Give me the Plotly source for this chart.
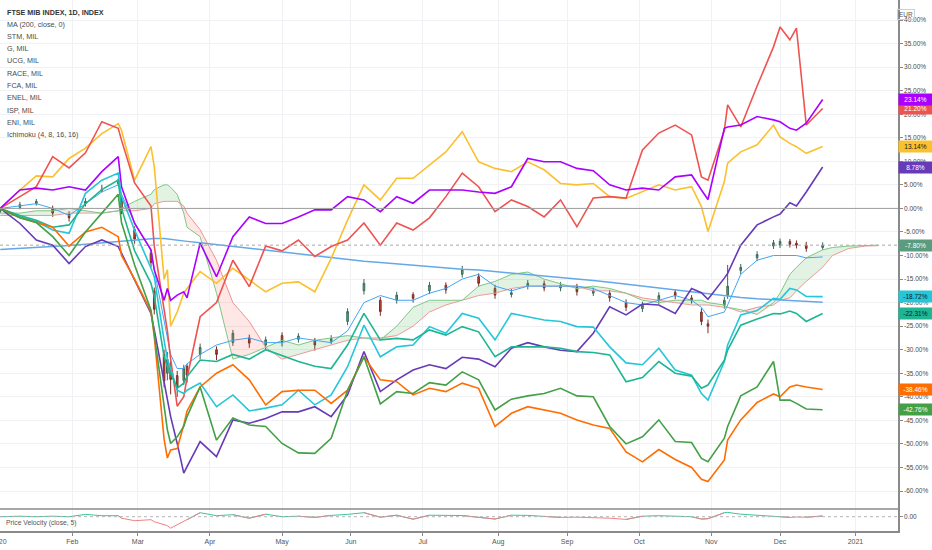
import numpy as np
import plotly.graph_objects as go

# sample dates (trading days, roughly weekly + a few extra around big moves)
dates = ["2020-01-02", "2020-01-10", "2020-01-17", "2020-01-24", "2020-01-31",
         "2020-02-07", "2020-02-14", "2020-02-21", "2020-02-24", "2020-02-28",
         "2020-03-06", "2020-03-09", "2020-03-12", "2020-03-13", "2020-03-16",
         "2020-03-18", "2020-03-20", "2020-03-23", "2020-03-27", "2020-04-03",
         "2020-04-10", "2020-04-17", "2020-04-24", "2020-05-01", "2020-05-08",
         "2020-05-15", "2020-05-22", "2020-05-29", "2020-06-05", "2020-06-12",
         "2020-06-19", "2020-06-26", "2020-07-03", "2020-07-10", "2020-07-17",
         "2020-07-24", "2020-07-31", "2020-08-07", "2020-08-14", "2020-08-21",
         "2020-08-28", "2020-09-04", "2020-09-11", "2020-09-18", "2020-09-25",
         "2020-10-02", "2020-10-09", "2020-10-16", "2020-10-23", "2020-10-28",
         "2020-10-30", "2020-11-06", "2020-11-09", "2020-11-13", "2020-11-20",
         "2020-11-27", "2020-12-01", "2020-12-04", "2020-12-08", "2020-12-11",
         "2020-12-18"]
future_dates = ["2020-12-23", "2020-12-30", "2021-01-06", "2021-01-12"]

# % change series (compare symbols)
stm = [0, 2.5, 4.6, 11, 8.6, 11.8, 18.4, 17, 14.5, 5.4,
       0.5, -8, -22, -26, -32, -42, -40, -36, -23, -20,
       -11, -16.6, -8, -9, -6.7, -10.2, -8.1, -6.7, -3.1, -7.8,
       -3.1, -4.6, -2, 2.5, 7.5, 4.6, -0.7, 1.8, 0.4, -1.8,
       1.8, -3.9, 2.2, 2.5, 2.2, 12.4, 16, 17.7, 15.6, 6.7,
       6, 16.6, 22, 17.3, 26, 34.3, 38.5, 35.8, 38.3, 17.7,
       21.2]
race = [0, 3.9, 4.3, 3.9, 4.6, 3.9, 7.8, 11, 4.6, -3.2,
        -8.8, -13, -19.5, -17, -19.5, -18.4, -17.7, -19, -7.4, -14.5,
        -6, -1.8, -3.2, -3.2, -1.8, -0.3, -0.3, 2.5, 1.8, -0.7,
        2.5, 1.1, 3.9, 3.9, 3.9, 3.5, 3.2, 4.6, 10.6, 9.9,
        9.9, 8.5, 8, 5, 3.9, 4.3, 3.9, 6.7, 7.1, 3.9,
        1.9, 17, 17.3, 17.7, 19.5, 18.8, 18.4, 17, 16.6, 18.1,
        23.14]
enel = [0, 3.9, 6.9, 6.7, 10.6, 12.8, 15.9, 18, 16.6, 6,
        13.1, 8.9, -15, -13, -25, -22, -18, -17, -13.4, -15.9,
        -12.7, -15.2, -17.7, -15.9, -15.6, -17.7, -10.6, -2.5, 5, 1.8,
        6.4, 6.4, 9.2, 12, 16.3, 9.9, 8.5, 7.8, 9.9, 8.2,
        5.3, 5, 5.3, 2.5, 2.1, 3.5, 5, 3.9, 4.6, 0.4,
        -4.9, 5.7, 9.6, 12, 13.5, 17.7, 15.2, 13.8, 13.1, 11.7,
        13.14]
fca = [0, -3.2, -6.7, -7.8, -11.7, -8.1, -6.7, -8.1, -9.5, -15.2,
       -22.3, -25.8, -37, -40.7, -44.2, -49.9, -56.2, -54.8, -49.5, -52.7,
       -44.9, -45.6, -44.6, -43.2, -43.2, -42.1, -44.2, -39.6, -30.4, -38.9,
       -36.4, -34.3, -33.2, -34, -31.6, -32, -33.6, -29.7, -28.5, -29.4,
       -30.1, -30.4, -26.5, -20.9, -22.6, -20.3, -20.5, -22.3, -17, -17.9,
       -19.3, -14.8, -13.8, -7.8, -3.5, -1.8, -1.2, 1.2, 0.5, 3.5,
       8.78]
g = [0, -1.8, -2.8, -4.6, -5.3, 3.2, 6, 7.5, 2.5, -4.6,
     -12.7, -14.5, -28, -32, -34, -38.6, -39.3, -38.6, -37.1, -42.1,
     -39.6, -43, -42.4, -41.7, -38.6, -41.7, -39.6, -33.6, -24.8, -31.5,
     -29.4, -29, -25.1, -26.5, -22.3, -23.3, -27.9, -22.3, -23, -23.7,
     -24, -25.1, -25.2, -29.4, -32.8, -33.2, -29.7, -34.3, -35.4, -39.3,
     -40.7, -32.5, -29, -22.6, -21.7, -19.1, -19.3, -17, -17.3, -18.7,
     -18.72]
isp = [0, -1.5, -2.5, -4, -3.5, 1, 4, 6, 0, -9,
       -15.9, -18.7, -31.5, -33.6, -35, -38.2, -37.1, -35.7, -32.2, -32.5,
       -31, -32, -30, -31.3, -32.5, -33.5, -34, -29, -22.3, -27.9,
       -27.6, -27.9, -25.8, -26.9, -25.1, -26.2, -31.5, -29.4, -29.4, -29.4,
       -29.7, -30.4, -30.6, -31.1, -36.8, -35.9, -32.5, -35, -35.6, -38.2,
       -37.5, -32.2, -30.1, -24.8, -23.5, -22.3, -22.4, -21.8, -22.3, -24,
       -22.31]
ucg = [0, -2, -3, -4, -8, -5, -4, -6, -10, -15,
       -21.9, -27.2, -49, -53, -51.3, -51, -46, -43, -37.9, -35,
       -33.2, -36.4, -41.7, -38.9, -38.6, -38.6, -41.4, -38.6, -31.5, -36.4,
       -36.8, -39.6, -38.2, -38.9, -37.1, -38.2, -46.3, -43.5, -42.1, -42.8,
       -43.5, -44.9, -46, -46.7, -51.7, -53.8, -51.2, -53.3, -55, -57.5,
       -58, -53.4, -49.2, -44.9, -41.2, -39.4, -40, -37.9, -37.5, -37.9,
       -38.46]
eni = [0, -2, -3, -6, -10, -5, -1, 3, -3, -12,
       -21.6, -26.5, -42.1, -47, -49.9, -48.5, -46.3, -44.2, -37.9, -49.2,
       -44.5, -46, -46.3, -49.9, -51.9, -52, -48.8, -38.6, -31.5, -41.5,
       -38.9, -39.3, -37, -37.5, -34.7, -36.4, -42.8, -40.5, -39.8, -39.3,
       -38.2, -39.8, -40, -46.3, -50, -48.5, -44.9, -49.5, -49.7, -53.1,
       -53.8, -48.8, -46.3, -39.8, -37.9, -32.5, -40.7, -40.7, -41.4, -42.6,
       -42.76]

# FTSE MIB (main series) candles, in %
ftse_open = [-0.6, 0.2, 1.0, 0.0, -1.2, 1.0, 4.0, 5.3, 2.0, -4.5,
             -9.5, -17.5, -31.0, -35.0, -33.0, -35.5, -36.5, -33.5, -31.0, -30.0,
             -28.5, -27.5, -29.0, -27.0, -27.8, -28.0, -28.2, -24.0, -17.5, -19.5,
             -19.5, -18.3, -17.5, -16.3, -14.0, -14.5, -17.0, -18.3, -16.5, -16.0,
             -16.9, -16.5, -18.0, -18.0, -20.0, -21.3, -19.5, -17.8, -19.0, -22.0,
             -24.5, -20.5, -18.5, -13.2, -10.5, -8.0, -7.8, -7.0, -7.4, -7.8,
             -8.3]
ftse_high = [0.3, 1.4, 2.0, 0.6, -0.6, 2.2, 5.0, 6.4, 2.3, -3.8,
             -8.8, -16.8, -30.0, -30.5, -32.0, -34.5, -33.2, -33.0, -28.7, -29.3,
             -25.8, -26.8, -27.2, -26.3, -26.5, -27.5, -26.9, -21.2, -15.0, -18.8,
             -17.7, -17.8, -15.6, -15.7, -12.2, -13.8, -16.2, -17.1, -15.2, -15.3,
             -15.6, -16.0, -16.8, -17.3, -19.3, -19.8, -17.8, -17.2, -18.4, -21.2,
             -23.6, -18.8, -12.0, -11.8, -9.1, -6.7, -6.4, -6.5, -6.8, -7.1,
             -7.2]
ftse_low = [-1.0, -0.2, 0.6, -1.8, -2.8, 0.4, 3.4, 4.8, -1.2, -7.5,
            -12.5, -22.5, -38.0, -36.5, -39.5, -40.0, -37.5, -37.0, -32.0, -32.2,
            -29.2, -29.6, -30.0, -29.3, -28.5, -30.2, -28.8, -24.8, -18.3, -22.8,
            -20.2, -20.0, -18.2, -18.1, -14.7, -16.6, -19.2, -18.9, -17.2, -17.6,
            -17.6, -18.5, -18.6, -19.8, -21.8, -22.0, -20.3, -19.3, -20.2, -24.8,
            -26.5, -21.3, -19.2, -14.0, -11.2, -8.6, -8.4, -8.3, -8.5, -9.2,
            -8.8]
ftse_close = [0, 0.8, 1.5, -1.0, -2.0, 1.5, 3.9, 5.7, -0.5, -6.5,
              -11.5, -21.4, -36.6, -32.1, -36.3, -38, -34, -35.4, -29.5, -31,
              -26.5, -28.6, -27.9, -28.3, -27.1, -29, -27.6, -21.9, -15.9, -21.9,
              -18.4, -19.1, -16.3, -17.3, -13, -15.9, -18.4, -17.9, -15.9, -16.9,
              -16.3, -17.7, -17.5, -19, -21, -20.5, -18.5, -18.5, -19.5, -24,
              -25, -19.5, -16.5, -12.5, -9.8, -7.3, -7, -7.6, -7.8, -8.5,
              -7.8]

ma200 = [-8.7, -8.5, -8.3, -8.1, -7.9, -7.6, -7.3, -7.0, -6.9, -6.7,
         -6.5, -6.4, -6.4, -6.5, -6.6, -6.7, -6.9, -7.0, -7.3, -7.7,
         -8.0, -8.4, -8.8, -9.3, -9.7, -10.1, -10.5, -10.9, -11.2, -11.5,
         -11.8, -12.1, -12.3, -12.6, -12.9, -13.1, -13.4, -13.7, -14.0, -14.3,
         -14.6, -14.9, -15.3, -15.7, -16.1, -16.5, -16.9, -17.3, -17.7, -18.0,
         -18.1, -18.5, -18.7, -18.9, -19.2, -19.4, -19.5, -19.6, -19.7, -19.8,
         -19.9]

# Ichimoku (4, 8, 16, 16)
conversion = [0, 0.5, 1, 0, -1.5, 1, 3.5, 5, 3, -3,
              -9, -13, -24, -27, -31, -34, -34, -33, -31, -29,
              -28, -27.5, -28.5, -28.5, -27.5, -28, -28.5, -26, -20, -18.5,
              -19.5, -19.5, -18, -17, -15, -14, -16.5, -17.5, -16.5, -16.5,
              -16.5, -16.5, -17, -18.5, -20, -20.5, -19.5, -18.5, -19.5, -21,
              -23, -22, -20.5, -14, -11, -10, -10, -10, -10, -10.5,
              -10.3]
span_a = [-1.0, -1.0, -0.5, -0.5, 0.0, -0.5, -1.0, -0.5, 0.0, 1.5,
          3.0, 4.0, 5.0, 5.0, 4.5, 3.0, -1.0, -4.0, -6.0, -18,
          -32, -31, -29.5, -28, -29, -28, -27.5, -27, -27.5, -28,
          -25, -21, -19.5, -19.5, -19.5, -16.5, -15.5, -14, -13.5, -15,
          -16, -17, -16.5, -17, -18, -19.5, -20, -19.5, -19.5, -19.5,
          -20, -20.5, -21, -21.5, -22.5, -20, -18, -14, -12.5, -10.5,
          -8.8, -8.3, -8.0, -7.9, -7.8]
span_b = [-1.5, -1.5, -1.5, -1.5, -1.0, -1.0, -1.0, -0.5, -0.5, -0.5,
          0.0, 1.0, 1.5, 1.5, 1.5, 1.5, 0.5, -1.0, -4.5, -11,
          -20, -24, -29.5, -32, -31, -30, -29, -28, -27.5, -27.5,
          -27, -25, -22, -20.5, -19.5, -18.5, -18, -17, -16.5, -16.5,
          -16.5, -16.5, -17.5, -17.5, -18, -19, -19.5, -20, -20.5, -20.5,
          -20.5, -21, -21, -22, -21, -20.5, -19.5, -19, -17.5, -15.5,
          -12.5, -10, -8.5, -8.0, -7.9]

velocity = [0, 0.5, 0, 0.5, 0, 2.3, 1, 1, -1.5, -4,
            -3, -5, -8, -9, -11.5, -8, -5, -3, 4, 1,
            2, -1.5, 2.5, 0, 0.5, -0.7, 1.3, 2.3, 4, -0.5,
            1.5, -2.5, 1.5, 1.3, 1.2, -0.7, -2.3, 1.5, 1.3, 0.3,
            -0.7, -0.5, -0.7, -1.5, -2.7, 0.5, 1, 0.3, 0, -2.3,
            -2, 4, 4.3, 2.5, 1.5, 0.7, 0, -0.7, -0.3, -0.5,
            0.7]

legend_lines = ["FTSE MIB INDEX, 1D, INDEX", "MA (200, close, 0)", "STM, MIL", "G, MIL",
                "UCG, MIL", "RACE, MIL", "FCA, MIL", "ENEL, MIL", "ISP, MIL", "ENI, MIL",
                "Ichimoku (4, 8, 16, 16)"]
month_ticks = ["2020-02-03", "2020-03-02", "2020-04-01", "2020-05-01",
               "2020-06-01", "2020-07-01", "2020-08-03", "2020-09-01", "2020-10-01",
               "2020-11-02", "2020-12-01", "2021-01-01"]
month_labels = ["Feb", "Mar", "Apr", "May", "Jun", "Jul", "Aug", "Sep", "Oct",
                "Nov", "Dec", "2021"]

FONT = "Liberation Sans, Arial, sans-serif"
W, H = 932, 550
PLOT_W, PLOT_H = 898, 531
PANE = 22 / PLOT_H

fig = go.Figure()

# ichimoku cloud
cdates = dates + future_dates
a = np.array(span_a)
b = np.array(span_b)
fig.add_trace(go.Scatter(x=cdates, y=b, mode="lines", line=dict(color="#ef9a9a", width=1),
                         hoverinfo="skip", showlegend=False))
fig.add_trace(go.Scatter(x=cdates, y=np.maximum(a, b), mode="lines", line=dict(width=0),
                         fill="tonexty", fillcolor="rgba(76,175,80,0.16)",
                         hoverinfo="skip", showlegend=False))
fig.add_trace(go.Scatter(x=cdates, y=b, mode="lines", line=dict(width=0),
                         hoverinfo="skip", showlegend=False))
fig.add_trace(go.Scatter(x=cdates, y=np.minimum(a, b), mode="lines", line=dict(width=0),
                         fill="tonexty", fillcolor="rgba(244,67,54,0.13)",
                         hoverinfo="skip", showlegend=False))
fig.add_trace(go.Scatter(x=cdates, y=a, mode="lines", line=dict(color="#81c784", width=1),
                         hoverinfo="skip", showlegend=False))

fig.add_trace(go.Scatter(x=dates, y=ma200, mode="lines", line=dict(color="#64a8e8", width=1.5),
                         hoverinfo="skip", showlegend=False))
fig.add_trace(go.Scatter(x=dates, y=conversion, mode="lines", line=dict(color="#42a5f5", width=1),
                         hoverinfo="skip", showlegend=False))

series = [
    (enel, "#fbc02d", "#131722"),
    (stm, "#ef5350", "white"),
    (race, "#aa00ff", "white"),
    (fca, "#673ab7", "white"),
    (g, "#26c6da", "#131722"),
    (isp, "#1eb592", "#131722"),
    (ucg, "#ff6d00", "white"),
    (eni, "#43a047", "white"),
]
for vals, col, _ in series:
    fig.add_trace(go.Scatter(x=dates, y=vals, mode="lines", line=dict(color=col, width=1.6),
                             hoverinfo="skip", showlegend=False))

fig.add_trace(go.Candlestick(x=dates, open=ftse_open, high=ftse_high, low=ftse_low, close=ftse_close,
                             increasing=dict(line=dict(color="#3b6b55", width=1), fillcolor="#5fa382"),
                             decreasing=dict(line=dict(color="#7a2e25", width=1), fillcolor="#c9473a"),
                             whiskerwidth=0, hoverinfo="skip", showlegend=False))

# price velocity pane
vel = np.array(velocity, dtype=float)
n = len(vel)
up, dn = [], []
for i in range(n):
    near = vel[max(i - 1, 0):i + 2]
    up.append(vel[i] if (near >= 0).any() else None)
    dn.append(vel[i] if (near < 0).any() else None)
fig.add_trace(go.Scatter(x=dates, y=up, yaxis="y2", mode="lines", line=dict(color="#3cc49a", width=1),
                         hoverinfo="skip", showlegend=False))
fig.add_trace(go.Scatter(x=dates, y=dn, yaxis="y2", mode="lines", line=dict(color="#f07f86", width=1),
                         hoverinfo="skip", showlegend=False))

ticks = list(range(-60, 45, 5))
fig.update_layout(
    width=W, height=H,
    margin=dict(l=0, r=W - PLOT_W, t=0, b=H - PLOT_H, autoexpand=False),
    paper_bgcolor="white", plot_bgcolor="white",
    font=dict(family=FONT, size=7, color="#4a4a4a"),
    xaxis=dict(type="date", anchor="y2", range=["2020-01-01 22:00", "2021-01-20"],
               rangebreaks=[dict(bounds=["sat", "mon"])], rangeslider=dict(visible=False),
               tickvals=month_ticks, ticktext=month_labels, tickfont=dict(size=7, color="#555"),
               showgrid=True, gridcolor="#eff1f4", gridwidth=1, automargin=False,
               showline=True, linecolor="#8a8a8a", linewidth=1.5, ticks="outside",
               ticklen=3, tickcolor="#8a8a8a", zeroline=False),
    yaxis=dict(domain=[PANE, 1], side="right", range=[-63.82, 44.25], automargin=False,
               tickvals=ticks, ticktext=[f"{v:.2f}%" for v in ticks],
               tickfont=dict(size=6.5, color="#4a4a4a"), ticks="outside", ticklen=3,
               tickcolor="#8a8a8a", showgrid=True, gridcolor="#eff1f4", zeroline=False,
               showline=True, linecolor="#8a8a8a", linewidth=1.5),
    yaxis2=dict(domain=[0, PANE], side="right", range=[-14.3, 7.7], tickvals=[0], automargin=False,
                ticktext=["0.00"], tickfont=dict(size=6.5, color="#4a4a4a"), ticks="outside",
                ticklen=3, tickcolor="#8a8a8a", showgrid=False, zeroline=False,
                showline=True, linecolor="#8a8a8a", linewidth=1.5),
    showlegend=False,
)

fig.add_hline(y=0, line=dict(color="#9e9e9e", width=1), yref="y")
fig.add_hline(y=ftse_close[-1], line=dict(color="#a8a8a8", width=1, dash="dot"), yref="y")
fig.add_shape(type="line", xref="paper", yref="y2", x0=0, x1=1, y0=0, y1=0,
              line=dict(color="#b5b5b5", width=1, dash="dot"))
fig.add_shape(type="line", xref="paper", yref="paper", x0=0, x1=1, y0=PANE, y1=PANE,
              line=dict(color="#8a8a8a", width=1.5))

# indicator/legend text, top left
for i, txt in enumerate(legend_lines):
    ypx = 12 + i * 12.25
    fig.add_annotation(x=5 / PLOT_W, y=(PLOT_H - ypx) / PLOT_H, xref="paper", yref="paper",
                       text=f"<b>{txt}</b>" if i == 0 else txt, showarrow=False,
                       xanchor="left", yanchor="middle",
                       font=dict(size=7.2, color="#333" if i == 0 else "#4a4a4a"))

fig.add_annotation(x=4 / PLOT_W, y=(PLOT_H - 523) / PLOT_H, xref="paper", yref="paper",
                   text="Price Velocity (close, 5)", showarrow=False, xanchor="left",
                   yanchor="middle", font=dict(size=6.8, color="#555"))
fig.add_annotation(x=915 / PLOT_W, y=(PLOT_H - 9) / PLOT_H, xref="paper", yref="paper",
                   text="EUR", showarrow=False, font=dict(size=6.5, color="#555"),
                   bordercolor="#d0d0d0", borderwidth=1, borderpad=1)
# year label of the first bar, half outside the left edge as in the picture
fig.add_annotation(x=-1 / PLOT_W, y=(PLOT_H - 541) / PLOT_H, xref="paper", yref="paper",
                   text="2020", showarrow=False, xanchor="center", yanchor="middle",
                   font=dict(size=7, color="#555"))

# last value labels on the price scale
labels = [(vals[-1], col, tc) for vals, col, tc in series]
labels.append((ftse_close[-1], "#5b9c7f", "white"))
for v, col, tc in labels:
    fig.add_annotation(x=1, y=v, xref="paper", yref="y", text=f"{v:.2f}%", showarrow=False,
                       xanchor="left", yanchor="middle", bgcolor=col, width=31, height=9,
                       align="center", borderpad=1, font=dict(size=6.5, color=tc))

# page without the default body margin so the figure fills the window
fig.write_html("out.html", config={"displayModeBar": False},
               post_script="document.body.style.margin='0';")
